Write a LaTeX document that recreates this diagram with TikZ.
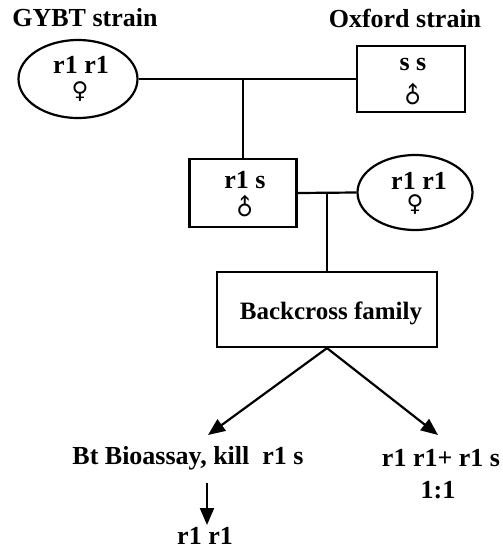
\documentclass[tikz,border=0pt]{standalone}
\usepackage{fontspec}
\setmainfont{Liberation Serif}
\newfontfamily\symf{DejaVu Sans}
\usetikzlibrary{shapes.geometric,arrows.meta}
\tikzset{
  x=1pt,y=-1pt,
  lw/.style={line width=2.2pt},
  fembox/.style={ellipse,draw,lw,inner sep=0pt},
  malebox/.style={rectangle,draw,lw,inner sep=0pt},
  lbl/.style={font=\fontsize{26}{28}\selectfont\bfseries,inner sep=0pt},
  sym/.style={font=\fontsize{23}{24}\symf,inner sep=0pt},
  arr/.style={lw,-{Triangle[length=17pt,width=14pt]}},
}
\begin{document}
\begin{tikzpicture}
\path[use as bounding box] (0,0) rectangle (503,550);
% titles
\node[lbl] (t1) at (85,18) {GYBT strain};
\node[lbl] (t2) at (405,18) {Oxford strain};
% parents
\node[fembox,minimum width=119pt,minimum height=78pt] (g1) at (78,79) {};
\node[lbl] (g1t) at (81,65) {r1 r1};
\node[sym] (g1s) at (80,92) {♀};
\node[malebox,minimum width=108pt,minimum height=66pt] (ox) at (411,79) {};
\node[lbl] (oxt) at (413,64) {s s};
\node[sym,rotate=45] (oxs) at (413,95) {♂};
\coordinate (j1) at (243,79);
\draw[lw] (g1.east) -- (ox.west);
% F1
\node[malebox,minimum width=107pt,minimum height=68pt] (f1) at (243,193) {};
\node[lbl] (f1t) at (245,180) {r1 s};
\node[sym,rotate=45] (f1s) at (245,207) {♂};
\draw[lw] (j1) -- (f1.north);
\node[fembox,minimum width=115pt,minimum height=75pt] (f2) at (415,192.5) {};
\node[lbl] (f2t) at (419,181) {r1 r1};
\node[sym] (f2s) at (415,205) {♀};
\coordinate (j2) at (327,193);
\draw[lw] (f1.east) -- (f2.west);
% backcross
\node[malebox,minimum width=220pt,minimum height=75pt] (bc) at (327,309.5) {};
\node[lbl,font=\fontsize{25}{28}\selectfont\bfseries] (bct) at (331,313) {Backcross family};
\draw[lw] (j2) -- (bc.north);
% outcomes
\node[lbl] (bt) at (188,458) {Bt Bioassay, kill~ r1 s};
\node[lbl] (mx) at (441,458) {r1 r1+ r1 s};
\node[lbl] (rt) at (438,490) {1:1};
\node[lbl] (rr) at (205,536) {r1 r1};
\coordinate (a1) at (208,435);
\coordinate (a2) at (438,435);
\coordinate (d1) at (207,483);
\coordinate (d2) at (207,525);
\draw[arr] (bc.south) -- (a1);
\draw[arr] (bc.south) -- (a2);
\draw[arr] (d1) -- (d2);
\end{tikzpicture}
\end{document}
